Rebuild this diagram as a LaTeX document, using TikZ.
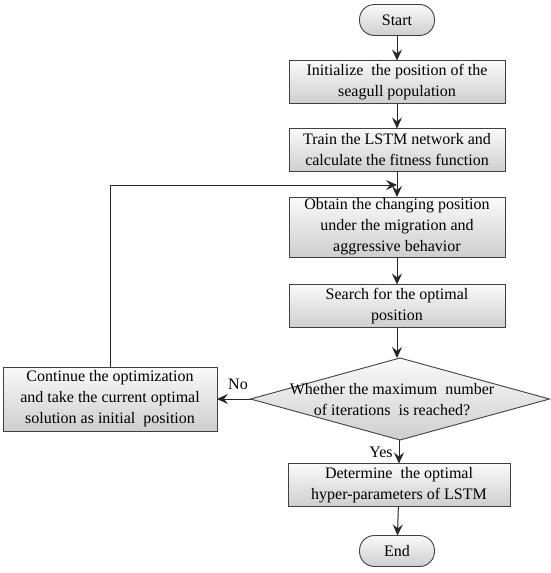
\documentclass[tikz,border=0pt]{standalone}
\usepackage{fontspec}
\setmainfont{Liberation Serif}
\usetikzlibrary{shapes.geometric,arrows.meta,positioning}
\begin{document}
\begin{tikzpicture}[x=1pt,y=-1pt,
  font=\fontsize{16}{21}\selectfont,
  every node/.style={inner sep=0pt, outer sep=0pt},
  procbox/.style={draw=black!75, line width=0.9pt, top color=gray!4, bottom color=gray!38,
     minimum width=216pt, minimum height=43pt, align=center},
  termbox/.style={draw=black!75, line width=0.9pt, top color=gray!4, bottom color=gray!38,
     rounded corners=15pt, minimum width=75pt, minimum height=31pt, align=center},
  decbox/.style={diamond, draw=black!75, line width=0.9pt, top color=gray!4, bottom color=gray!38,
     aspect=3.6, minimum width=299pt, minimum height=82pt, align=center},
  flow/.style={draw=black!85, line width=1pt, -{Stealth[length=11pt,width=10pt,inset=4pt]}}
]
\useasboundingbox (0,0) rectangle (550,573);
\node[termbox] (start) at (397,20) {Start};
\node[procbox] (b1) at (397,82) {Initialize\ \ the position of the\\seagull population};
\node[procbox] (b2) at (397,150) {Train the LSTM network and\\calculate the fitness function};
\node[procbox, minimum height=60pt] (b3) at (397,227) {Obtain the changing position\\under the migration and\\aggressive behavior};
\node[procbox] (b4) at (397,306) {Search for the optimal\\position};
\node[decbox] (dec) at (400,399) {};
\node[align=center] (dect) at (392,400) {Whether the maximum\ \ number\\of iterations\ \ is reached?};
\node[procbox, minimum width=214pt, minimum height=64pt] (left) at (110,399) {Continue the optimization\\and take the current optimal\\solution as initial\ \ position};
\node[procbox, minimum width=222pt] (b5) at (399,485) {Determine\ \ the optimal\\hyper-parameters of LSTM};
\node[termbox] (end) at (397,551) {End};
\coordinate (j) at (397,185);
\coordinate (lc) at (110,185);
\node (no) at (238,384) {No};
\node (yes) at (381,452) {Yes};

\draw[flow] (start) -- (b1);
\draw[flow] (b1) -- (b2);
\draw[flow] (b2) -- (b3);
\draw[flow] (b3) -- (b4);
\draw[flow] (b4) -- (dec.north -| b4);
\draw[flow] (dec.south -| b5) -- (b5);
\draw[flow] (b5) -- (end);
\draw[flow] (dec.west) -- (left.east);
\draw[flow] (left.north) -- (lc) -- (j);
\end{tikzpicture}
\end{document}
